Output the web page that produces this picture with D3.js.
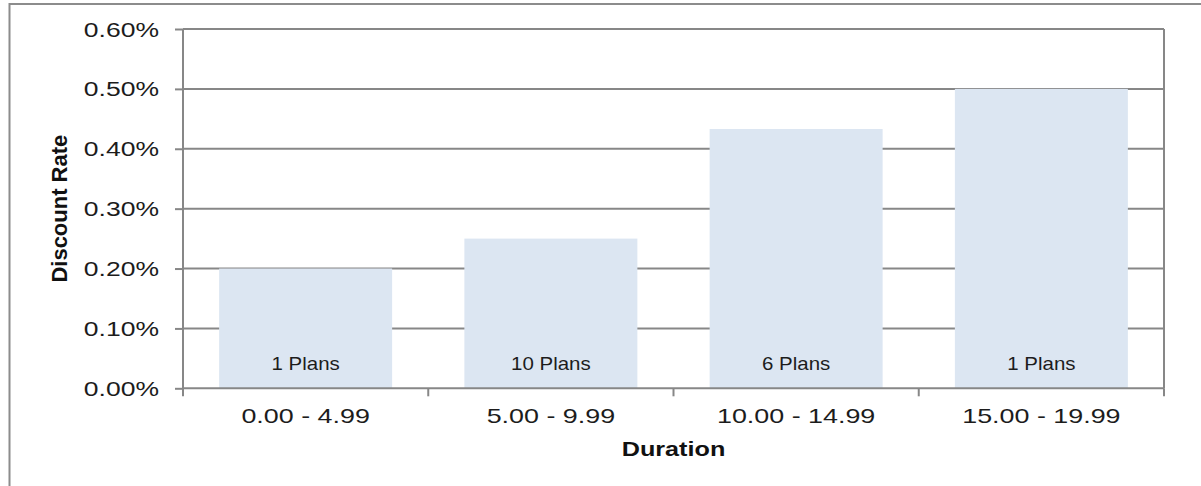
<!DOCTYPE html>
<html>
<head>
<meta charset="utf-8">
<script src="https://cdn.jsdelivr.net/npm/d3@7"></script>
<style>
  html, body { margin: 0; padding: 0; background: #fff; }
  svg { display: block; font-family: "Liberation Sans", Arial, sans-serif; }
</style>
</head>
<body>
<svg id="chart" width="1201" height="486"></svg>
<script>
// Discount rate by duration bucket
const categories = ["0.00 - 4.99", "5.00 - 9.99", "10.00 - 14.99", "15.00 - 19.99"];
const discountRates = [0.20, 0.25, 0.433, 0.50];   // percent
const planCounts = [1, 10, 6, 1];
const yTicks = [0, 0.10, 0.20, 0.30, 0.40, 0.50, 0.60];

const svg = d3.select("#chart");
const W = 1201, H = 486;
const margin = { left: 183, top: 29, right: 37, bottom: 97.7 };
const x0 = margin.left, x1 = W - margin.right;
const y0 = margin.top, y1 = H - margin.bottom;

const gridColor = "#878787";
const textColor = "#1c1c1c";

// outer frame
svg.append("rect")
  .attr("x", 9.5).attr("y", 4)
  .attr("width", 1400).attr("height", 1000)
  .attr("fill", "none").attr("stroke", "#8c8c8c").attr("stroke-width", 2);

const x = d3.scaleBand().domain(categories).range([x0, x1])
  .paddingInner(0.2946).paddingOuter(0.1473);
const y = d3.scaleLinear().domain([0, 0.6]).range([y1, y0]);

// horizontal gridlines
svg.append("g").selectAll("line").data(yTicks.filter(t => t > 0)).join("line")
  .attr("x1", x0).attr("x2", x1)
  .attr("y1", d => y(d)).attr("y2", d => y(d))
  .attr("stroke", gridColor).attr("stroke-width", 2);

// bars
svg.append("g").selectAll("rect").data(categories).join("rect")
  .attr("x", d => x(d))
  .attr("width", x.bandwidth())
  .attr("y", (d, i) => y(discountRates[i]))
  .attr("height", (d, i) => y(0) - y(discountRates[i]))
  .attr("fill", "#dce6f2");

// plan count labels at the base of each bar
svg.append("g").selectAll("text").data(categories).join("text")
  .attr("transform", d => `translate(${x(d) + x.bandwidth() / 2},${y(0) - 18}) scale(1.17,1)`)
  .attr("text-anchor", "middle")
  .attr("font-size", 17.5)
  .attr("fill", textColor)
  .text((d, i) => `${planCounts[i]} Plans`);

// right edge of plot area
svg.append("line")
  .attr("x1", x1).attr("x2", x1).attr("y1", y0).attr("y2", y1)
  .attr("stroke", gridColor).attr("stroke-width", 2);

// y axis
const yAxis = svg.append("g")
  .attr("transform", `translate(${x0},0)`)
  .call(d3.axisLeft(y).tickValues(yTicks).tickSize(8).tickFormat(() => ""));
yAxis.select(".domain").attr("stroke", gridColor).attr("stroke-width", 2)
  .attr("d", `M0,${y0}V${y1}`);
yAxis.selectAll(".tick line").attr("stroke", gridColor).attr("stroke-width", 2);

svg.append("g").selectAll("text").data(yTicks).join("text")
  .attr("transform", d => `translate(159,${y(d) + 7.5}) scale(1.36,1)`)
  .attr("text-anchor", "end")
  .attr("font-size", 19.5)
  .attr("fill", textColor)
  .text(d => d3.format(".2f")(d) + "%");

// x axis with ticks at category boundaries
const boundaries = categories.map(c => x(c) - x.step() * x.paddingInner() / 2).concat([x1]);
svg.append("line")
  .attr("x1", x0).attr("x2", x1).attr("y1", y1).attr("y2", y1)
  .attr("stroke", gridColor).attr("stroke-width", 2);
svg.append("g").selectAll("line").data(boundaries).join("line")
  .attr("x1", d => d).attr("x2", d => d)
  .attr("y1", y1).attr("y2", y1 + 8)
  .attr("stroke", gridColor).attr("stroke-width", 2);

svg.append("g").selectAll("text").data(categories).join("text")
  .attr("transform", d => `translate(${x(d) + x.bandwidth() / 2},423) scale(1.28,1)`)
  .attr("text-anchor", "middle")
  .attr("font-size", 21)
  .attr("fill", textColor)
  .text(d => d);

// axis titles
svg.append("text")
  .attr("transform", `translate(${(x0 + x1) / 2},456) scale(1.2,1)`)
  .attr("text-anchor", "middle")
  .attr("font-size", 21).attr("font-weight", "bold")
  .attr("fill", "#111")
  .text("Duration");

svg.append("text")
  .attr("transform", `translate(66.5,${(y0 + y1) / 2}) rotate(-90)`)
  .attr("text-anchor", "middle")
  .attr("font-size", 22).attr("font-weight", "bold")
  .attr("fill", "#111")
  .text("Discount Rate");
</script>
</body>
</html>
